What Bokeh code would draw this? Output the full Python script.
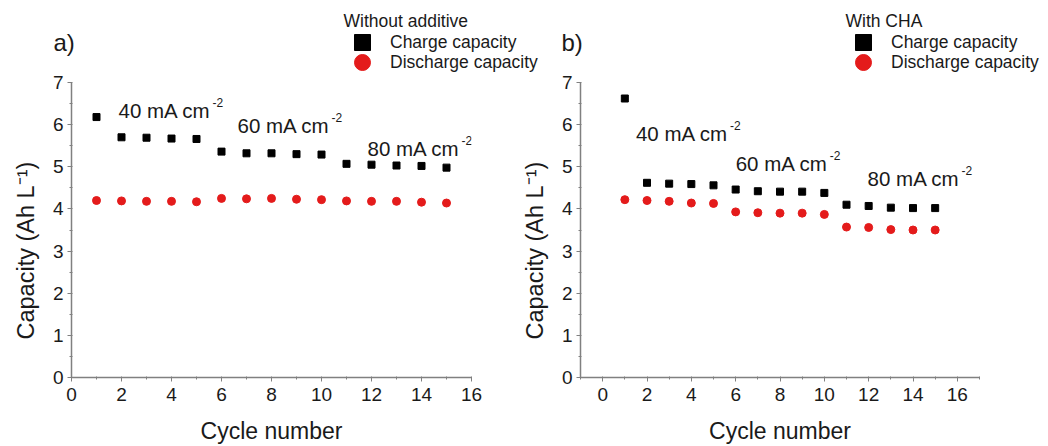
from bokeh.plotting import figure
from bokeh.layouts import row, column
from bokeh.models import (Range1d, SingleIntervalTicker, Legend, LegendItem, Label,
                          ColumnDataSource, Title)
from bokeh.core.properties import value
from bokeh.embed import file_html
from bokeh.resources import INLINE

# ---------------- data ----------------
cycles = [1, 2, 3, 4, 5, 6, 7, 8, 9, 10, 11, 12, 13, 14, 15]
a_charge = [6.18, 5.70, 5.69, 5.67, 5.66, 5.36, 5.32, 5.32, 5.30, 5.29, 5.07, 5.05, 5.03, 5.02, 4.98]
a_discharge = [4.20, 4.19, 4.18, 4.18, 4.17, 4.25, 4.24, 4.25, 4.23, 4.22, 4.19, 4.18, 4.18, 4.16, 4.14]
b_charge = [6.62, 4.62, 4.60, 4.59, 4.56, 4.46, 4.42, 4.41, 4.41, 4.38, 4.10, 4.07, 4.03, 4.02, 4.02]
b_discharge = [4.22, 4.20, 4.18, 4.14, 4.13, 3.93, 3.91, 3.90, 3.90, 3.87, 3.57, 3.56, 3.51, 3.50, 3.50]

current_labels = ["40 mA cm", "60 mA cm", "80 mA cm"]
current_sup = ["-2", "-2", "-2"]
a_label_x = [1.88, 6.64, 11.84]
a_label_y = [6.34, 5.98, 5.43]
b_label_x = [1.50, 6.00, 11.95]
b_label_y = [5.79, 5.08, 4.72]

x_label = "Cycle number"
y_label = "Capacity (Ah L\u207b\u00b9)"
legend_titles = ["Without additive", "With CHA"]
series_names = ["Charge capacity", "Discharge capacity"]
panel_tags = ["a)", "b)"]

FONT = "Liberation Sans"
TXT = "#1a1a1a"
AXC = "#808080"
RED = "#e41b1b"
TOP_H = 72


def one_legend(label, rend, leg_x, vy):
    return Legend(items=[LegendItem(label=label, renderers=[rend])],
                  location=(leg_x, vy), orientation="vertical",
                  glyph_width=40, glyph_height=40, label_standoff=8,
                  padding=0, margin=0, border_line_alpha=0, background_fill_alpha=0,
                  label_text_font=FONT, label_text_font_size="17.5px",
                  label_text_color=TXT)


def make_header(tag, title, width, charge, discharge, leg_x, title_x, tag_x):
    # header strip holding the legend, its title and the panel tag;
    # its ranges keep the series themselves out of view
    t = figure(width=width, height=TOP_H, x_range=Range1d(-100, -99), y_range=Range1d(-100, -99),
               output_backend="svg", toolbar_location=None,
               min_border=0, min_border_left=0, min_border_right=0,
               min_border_top=0, min_border_bottom=0)
    t.axis.visible = False
    t.grid.visible = False
    t.outline_line_color = None
    t.background_fill_alpha = 0
    t.border_fill_alpha = 0
    src = ColumnDataSource(dict(x=cycles, c=charge, d=discharge))
    rc = t.scatter("x", "c", source=src, marker="square", fill_color="black", line_color="black")
    rd = t.scatter("x", "d", source=src, marker="circle", fill_color=RED, line_color=RED)
    t.add_layout(one_legend(series_names[0], rc, leg_x, TOP_H - 62), "center")
    t.add_layout(one_legend(series_names[1], rd, leg_x, TOP_H - 82), "center")
    t.add_layout(Label(x=title_x, y=TOP_H - 20, x_units="screen", y_units="screen", text=title,
                       text_font=FONT, text_font_size="17.5px", text_color=TXT,
                       text_baseline="middle"))
    t.add_layout(Label(x=tag_x, y=TOP_H - 42, x_units="screen", y_units="screen", text=tag,
                       text_font=FONT, text_font_size="24px", text_color=TXT,
                       text_baseline="middle"))
    return t


def make_panel(xr, charge, discharge, lx, ly, width, bl, br):
    p = figure(width=width, height=446 - TOP_H, x_range=Range1d(*xr), y_range=Range1d(0, 7),
               output_backend="svg", toolbar_location=None,
               min_border_left=bl, min_border_right=br, min_border_top=82 - TOP_H,
               min_border_bottom=69)
    p.grid.visible = False
    p.outline_line_color = None
    p.background_fill_alpha = 0
    p.border_fill_alpha = 0

    for ax in (p.xaxis[0], p.yaxis[0]):
        ax.axis_line_color = AXC
        ax.axis_line_width = 1.5
        ax.major_tick_line_color = AXC
        ax.minor_tick_line_color = AXC
        ax.major_tick_out = 4
        ax.major_tick_in = 0
        ax.minor_tick_out = 2
        ax.minor_tick_in = 1
        ax.major_label_text_font = FONT
        ax.major_label_text_font_size = "19px"
        ax.major_label_text_color = TXT
        ax.major_label_standoff = 4
    p.xaxis.ticker = SingleIntervalTicker(interval=2, num_minor_ticks=2)
    p.yaxis.ticker = SingleIntervalTicker(interval=1, num_minor_ticks=2)
    p.xaxis.major_label_standoff = 6
    p.xaxis.axis_label = x_label
    p.xaxis.axis_label_text_font = FONT
    p.xaxis.axis_label_text_font_style = "normal"
    p.xaxis.axis_label_text_font_size = "23px"
    p.xaxis.axis_label_text_color = TXT
    p.xaxis.axis_label_standoff = 14

    yt = Title(text=y_label, align="left", offset=38, vertical_align="middle",
               text_font=FONT, text_font_size="23.5px", text_font_style="normal",
               text_color=TXT, standoff=20)
    p.add_layout(yt, "left")

    src = ColumnDataSource(dict(x=cycles, c=charge, d=discharge))
    p.scatter("x", "c", source=src, marker="square", size=7,
              fill_color="black", line_color="black")
    p.scatter("x", "d", source=src, marker="circle", size=8,
              fill_color=RED, line_color=RED)

    tsrc = ColumnDataSource(dict(x=lx, y=ly, t=current_labels, s=current_sup))
    p.text("x", "y", text="t", source=tsrc, text_font=value(FONT), text_font_size="20.5px",
           text_color=TXT, text_align="left", text_baseline="middle")
    p.text("x", "y", text="s", source=tsrc, text_font=value(FONT), text_font_size="12px",
           text_color=TXT, text_align="left", text_baseline="middle", x_offset=94, y_offset=-8)
    return p


ta = make_header(panel_tags[0], legend_titles[0], 545, a_charge, a_discharge, 342, 343, 53)
tb = make_header(panel_tags[1], legend_titles[1], 503, b_charge, b_discharge,
                 843 - 545, 845 - 545, 561 - 545)
pa = make_panel((0, 16), a_charge, a_discharge, a_label_x, a_label_y, 524, 71, 53)
pb = make_panel((-1, 17), b_charge, b_discharge, b_label_x, b_label_y, 539, 71, 69)
pb.margin = (0, 0, 0, -15)

layout = column(row(ta, tb), row(pa, pb))
open("out.html", "w").write(file_html(layout, INLINE))
